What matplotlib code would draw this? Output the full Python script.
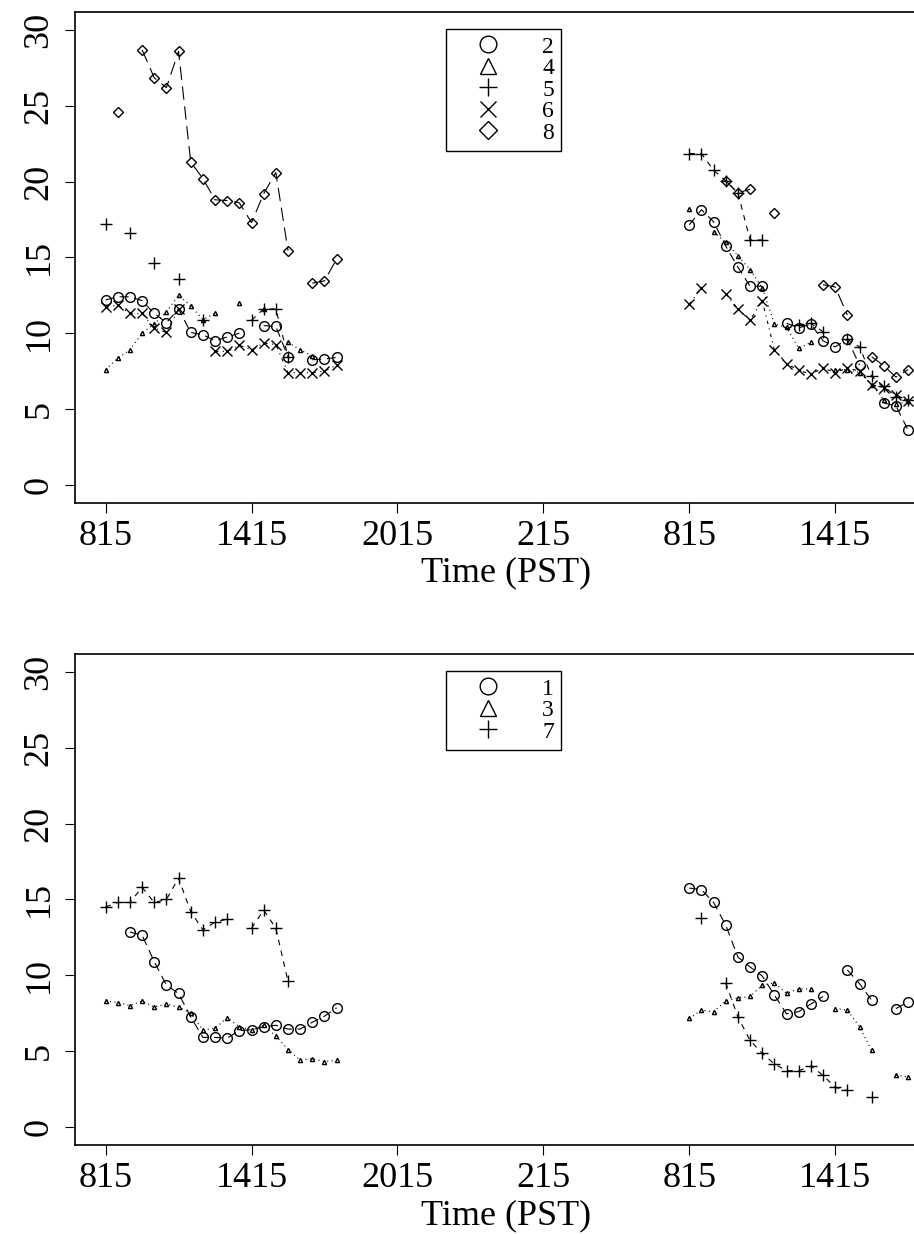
import numpy as np
import matplotlib
matplotlib.use("Agg")
import matplotlib.pyplot as plt
from matplotlib.lines import Line2D

nan = np.nan

# half-hour sampling slots, in hours after midnight of the first day
HOURS_DAY1 = [8.25, 8.75, 9.25, 9.75, 10.25, 10.75, 11.25, 11.75, 12.25, 12.75,
              13.25, 13.75, 14.25, 14.75, 15.25, 15.75, 16.25, 16.75, 17.25, 17.75]
HOURS_DAY2 = [32.25, 32.75, 33.25, 33.75, 34.25, 34.75, 35.25, 35.75, 36.25, 36.75,
              37.25, 37.75, 38.25, 38.75, 39.25, 39.75, 40.25, 40.75, 41.25]

TICK_HOURS = [8.25, 14.25, 20.25, 26.25, 32.25, 38.25]
TICK_LABELS = ["815", "1415", "2015", "215", "815", "1415"]
Y_TICKS = [0, 5, 10, 15, 20, 25, 30]

# upper panel: sites 2, 4, 5, 6, 8
SITE2_DAY1 = [12.2, 12.4, 12.4, 12.15, 11.3, 10.7, 11.6, 10.05, 9.9, 9.5,
              9.75, 10.0, nan, 10.5, 10.45, 8.45, nan, 8.25, 8.3, 8.4]
SITE2_DAY2 = [17.15, 18.15, 17.35, 15.75, 14.35, 13.1, 13.1, nan, 10.65, 10.35,
              10.6, 9.5, 9.1, 9.6, 7.9, nan, 5.4, 5.2, 3.6]
SITE4_DAY1 = [7.6, 8.35, 8.9, 10.0, 10.6, 11.4, 12.5, 11.8, 10.9, 11.3,
              nan, 12.0, nan, 11.6, nan, 9.4, 8.9, 8.5, nan, nan]
SITE4_DAY2 = [18.2, nan, 16.7, 16.0, 15.1, 14.2, 13.0, 10.6, 10.4, 9.0,
              9.4, nan, 7.6, 7.6, 7.4, 6.6, 5.6, 5.3, 5.5]
SITE5_DAY1 = [17.2, nan, 16.6, nan, 14.6, nan, 13.6, nan, 10.9, nan,
              nan, nan, 10.85, 11.6, 11.6, 8.45, nan, nan, nan, nan]
SITE5_DAY2 = [21.85, 21.85, 20.75, 20.05, 19.25, 16.15, 16.15, nan, nan, 10.55,
              10.65, 10.1, nan, 9.6, 9.1, 7.15, 6.5, 5.8, 5.6]
SITE6_DAY1 = [11.7, 11.85, 11.3, 11.3, 10.35, 10.05, 11.6, nan, nan, 8.8,
              8.8, 9.2, 8.9, 9.35, 9.25, 7.4, 7.4, 7.4, 7.5, 7.9]
SITE6_DAY2 = [11.9, 13.0, nan, 12.6, 11.6, 10.85, 12.15, 8.9, 8.0, 7.55,
              7.3, 7.7, 7.4, 7.7, 7.5, 6.6, 6.4, 5.95, 5.5]
SITE8_DAY1 = [nan, 24.6, nan, 28.7, 26.85, 26.2, 28.6, 21.3, 20.2, 18.8,
              18.75, 18.6, 17.3, 19.2, 20.6, 15.45, nan, 13.3, 13.45, 14.9]
SITE8_DAY2 = [nan, nan, nan, 20.05, 19.25, 19.5, nan, 17.9, nan, nan,
              nan, 13.2, 13.05, 11.2, nan, 8.45, 7.85, 7.1, 7.6]

# lower panel: sites 1, 3, 7
SITE1_DAY1 = [nan, nan, 12.85, 12.65, 10.9, 9.35, 8.8, 7.25, 5.9, 5.9,
              5.85, 6.35, 6.4, 6.6, 6.7, 6.45, 6.45, 6.9, 7.3, 7.85]
SITE1_DAY2 = [15.75, 15.65, 14.8, 13.3, 11.2, 10.55, 9.95, 8.7, 7.45, 7.6,
              8.1, 8.6, nan, 10.35, 9.45, 8.35, nan, 7.8, 8.25]
SITE3_DAY1 = [8.3, 8.2, 8.0, 8.3, 7.9, 8.1, 7.9, 7.5, 6.4, 6.5,
              7.2, 6.6, 6.4, 6.7, 6.0, 5.1, 4.4, 4.5, 4.3, 4.4]
SITE3_DAY2 = [7.15, 7.7, 7.6, 8.3, 8.5, 8.6, 9.35, 9.5, 8.8, 9.1,
              9.1, nan, 7.8, 7.7, 6.6, 5.05, nan, 3.4, 3.3]
SITE7_DAY1 = [14.5, 14.8, 14.8, 15.8, 14.8, 15.0, 16.4, 14.2, 13.0, 13.5,
              13.7, nan, 13.1, 14.3, 13.1, 9.6, nan, nan, nan, nan]
SITE7_DAY2 = [nan, 13.8, nan, 9.5, 7.25, 5.7, 4.85, 4.15, 3.7, 3.7,
              4.0, 3.4, 2.6, 2.4, nan, 2.0, nan, nan, nan]

# marker / connector per site
STYLE = {
    "1": dict(marker="o", markersize=7, linestyle=(0, (8, 5))),
    "2": dict(marker="o", markersize=7, linestyle=(0, (8, 5))),
    "3": dict(marker="^", markersize=3, linestyle=(0, (1, 3))),
    "4": dict(marker="^", markersize=3, linestyle=(0, (1, 3))),
    "5": dict(marker="+", markersize=8, linestyle=(0, (5, 5))),
    "7": dict(marker="+", markersize=8, linestyle=(0, (5, 5))),
    "6": dict(marker="x", markersize=7, linestyle=(0, (3, 4, 1, 4))),
    "8": dict(marker="D", markersize=5, linestyle=(0, (12, 6))),
}
LEGEND_MARKER = {"o": 12, "^": 12, "+": 13, "x": 12, "D": 9}

FONT = "Liberation Serif"
FS = 26
LEGEND_FS = 17

UPPER = [("2", SITE2_DAY1, SITE2_DAY2), ("4", SITE4_DAY1, SITE4_DAY2),
         ("5", SITE5_DAY1, SITE5_DAY2), ("6", SITE6_DAY1, SITE6_DAY2),
         ("8", SITE8_DAY1, SITE8_DAY2)]
LOWER = [("1", SITE1_DAY1, SITE1_DAY2), ("3", SITE3_DAY1, SITE3_DAY2),
         ("7", SITE7_DAY1, SITE7_DAY2)]


def draw_panel(ax, sites, legend_y):
    for name, day1, day2 in sites:
        st = STYLE[name]
        for hours, vals in ((HOURS_DAY1, day1), (HOURS_DAY2, day2)):
            ax.plot(hours, vals, color="black", linewidth=0.8,
                    marker=st["marker"], markersize=st["markersize"],
                    markerfacecolor="none", markeredgecolor="black",
                    markeredgewidth=1.0, linestyle=st["linestyle"])

    ax.set_xlim(6.99, 42.43)
    ax.set_ylim(-1.2, 31.2)
    ax.set_xticks(TICK_HOURS)
    ax.set_xticklabels(TICK_LABELS)
    ax.set_yticks(Y_TICKS)
    ax.set_yticklabels([str(v) for v in Y_TICKS], rotation=90, va="center")
    ax.tick_params(axis="both", direction="out", length=7, width=0.8,
                   labelsize=FS, color="black")
    ax.tick_params(axis="y", pad=7)
    ax.tick_params(axis="x", pad=5)
    for lab in ax.get_xticklabels() + ax.get_yticklabels():
        lab.set_fontfamily(FONT)
    ax.spines["right"].set_visible(False)
    for s in ("left", "bottom", "top"):
        ax.spines[s].set_linewidth(1.2)
    ax.set_xlabel("Time (PST)", fontsize=FS, fontfamily=FONT, labelpad=3)

    handles = []
    for name, _, _ in sites:
        m = STYLE[name]["marker"]
        handles.append(Line2D([], [], linestyle="none", marker=m,
                              markersize=LEGEND_MARKER[m],
                              markerfacecolor="none", markeredgecolor="black",
                              markeredgewidth=1.0))
    leg = ax.legend(handles, [s[0] for s in sites], loc="upper left",
                    bbox_to_anchor=(0.430, legend_y), borderaxespad=0,
                    prop=dict(family=FONT, size=LEGEND_FS), labelspacing=0.0,
                    handlelength=3.0, handletextpad=0.8, borderpad=0.3,
                    fancybox=False, framealpha=1, edgecolor="black")
    leg.get_frame().set_linewidth(1.0)


def main():
    fig = plt.figure(figsize=(9.14, 12.34), dpi=100)
    ax_top = fig.add_axes([0.082, 0.5924, 0.943, 0.398])
    ax_bot = fig.add_axes([0.082, 0.0721, 0.943, 0.398])
    draw_panel(ax_top, UPPER, 0.965)
    draw_panel(ax_bot, LOWER, 0.965)
    fig.savefig("out.png", dpi=100)


if __name__ == "__main__":
    main()
